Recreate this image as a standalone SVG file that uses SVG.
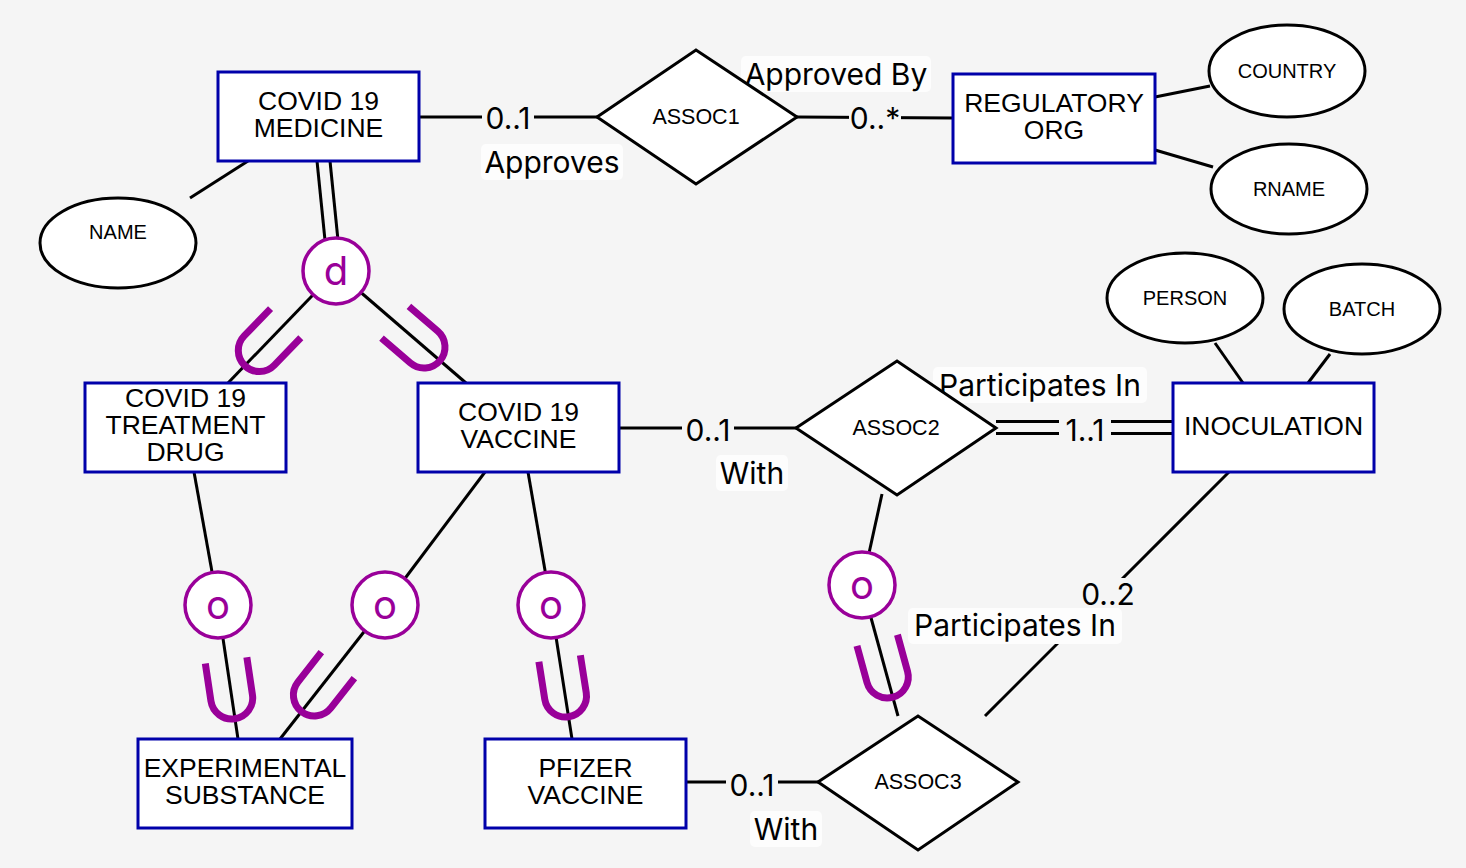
<svg xmlns="http://www.w3.org/2000/svg" width="1466" height="868" viewBox="0 0 1466 868">
<defs>
<style>
.ent{fill:#fff;stroke:#0000aa;stroke-width:3}
.rel{fill:#fff;stroke:#000;stroke-width:3}
.att{fill:#fff;stroke:#000;stroke-width:3}
.ln{stroke:#000;stroke-width:3;fill:none}
.et{font-family:"Liberation Sans",Arial,sans-serif;font-size:26.5px;text-anchor:middle;fill:#000}
.rt{font-family:"Liberation Sans",Arial,sans-serif;font-size:21.5px;text-anchor:middle;fill:#000}
.at{font-family:"Liberation Sans",Arial,sans-serif;font-size:20px;text-anchor:middle;fill:#000}
.lb{font-family:Inter,"Open Sans",sans-serif;font-size:30px;text-anchor:middle;fill:#000}
.lbg{fill:#f5f5f5}
.rbg{fill:#fdfdfd}
.sc{fill:#fff;stroke:#990099;stroke-width:3.5}
.st{font-family:Inter,"Open Sans",sans-serif;font-size:40px;text-anchor:middle;fill:#990099}
.u{fill:none;stroke:#990099;stroke-width:7}
</style>
<path id="U" d="M-21,-38 L-21,0 A21,21 0 0 0 21,0 L21,-38"/>
</defs>
<rect width="1466" height="868" fill="#f5f5f5"/>

<g id="connectors">
<line class="ln" x1="419" y1="117" x2="597" y2="117"/>
<line class="ln" x1="797" y1="117" x2="953" y2="118"/>
<line class="ln" x1="1155" y1="97" x2="1210" y2="86"/>
<line class="ln" x1="1155" y1="150" x2="1213" y2="167"/>
<line class="ln" x1="248" y1="161" x2="190" y2="198"/>
<line class="ln" x1="317" y1="161" x2="327" y2="260"/>
<line class="ln" x1="330" y1="161" x2="340" y2="260"/>
<line class="ln" x1="336" y1="271" x2="228" y2="383"/>
<line class="ln" x1="336" y1="271" x2="466" y2="383"/>
<line class="ln" x1="194" y1="472" x2="218" y2="605"/>
<line class="ln" x1="218" y1="605" x2="238" y2="739"/>
<line class="ln" x1="485" y1="472" x2="385" y2="605"/>
<line class="ln" x1="385" y1="605" x2="280" y2="739"/>
<line class="ln" x1="528" y1="472" x2="551" y2="605"/>
<line class="ln" x1="551" y1="605" x2="572" y2="739"/>
<line class="ln" x1="882" y1="494" x2="862" y2="585"/>
<line class="ln" x1="862" y1="585" x2="898" y2="716"/>
<line class="ln" x1="619" y1="428" x2="796" y2="428"/>
<line class="ln" x1="996" y1="421.5" x2="1173" y2="421.5"/>
<line class="ln" x1="996" y1="433.5" x2="1173" y2="433.5"/>
<line class="ln" x1="1229" y1="472" x2="985" y2="716"/>
<line class="ln" x1="686" y1="782" x2="818" y2="782"/>
<line class="ln" x1="1243" y1="383" x2="1215" y2="343"/>
<line class="ln" x1="1308" y1="383" x2="1330" y2="354"/>
</g>

<g id="subset-symbols">
<use href="#U" class="u" transform="translate(259.3,350.5) rotate(43.96)"/>
<use href="#U" class="u" transform="translate(424,347) rotate(-49.25)"/>
<use href="#U" class="u" transform="translate(231.7,698) rotate(-8.5)"/>
<use href="#U" class="u" transform="translate(314.4,695) rotate(38.1)"/>
<use href="#U" class="u" transform="translate(565.5,696) rotate(-8.9)"/>
<use href="#U" class="u" transform="translate(887.3,677) rotate(-15.4)"/>
</g>

<g id="labels">
<rect class="lbg" x="482" y="102" width="52" height="32"/>
<text class="lb" x="508" y="129">0..1</text>
<rect class="rbg" x="481" y="144" width="142" height="36" rx="5"/>
<text class="lb" x="552" y="173">Approves</text>
<rect class="rbg" x="741" y="56" width="190" height="36" rx="5"/>
<text class="lb" x="836" y="85">Approved By</text>
<rect class="lbg" x="849" y="102" width="52" height="32"/>
<text class="lb" x="875" y="129">0..*</text>
<rect class="lbg" x="682" y="412" width="52" height="32"/>
<text class="lb" x="708" y="441">0..1</text>
<rect class="rbg" x="716" y="455" width="72" height="36" rx="5"/>
<text class="lb" x="752" y="484">With</text>
<rect class="rbg" x="933" y="367" width="214" height="36" rx="5"/>
<text class="lb" x="1040" y="396">Participates In</text>
<rect class="lbg" x="1059" y="412" width="52" height="32"/>
<text class="lb" x="1085" y="441">1..1</text>
<rect class="lbg" x="1082" y="578" width="52" height="30"/>
<text class="lb" x="1108" y="605">0..2</text>
<rect class="rbg" x="908" y="608" width="214" height="36" rx="5"/>
<text class="lb" x="1015" y="636">Participates In</text>
<rect class="lbg" x="726" y="766" width="52" height="32"/>
<text class="lb" x="752" y="796">0..1</text>
<rect class="rbg" x="750" y="811" width="72" height="36" rx="5"/>
<text class="lb" x="786" y="840">With</text>
</g>

<g id="d-circle"><circle class="sc" cx="336" cy="271" r="33"/><text class="st" x="336" y="285">d</text></g>
<g id="o-circle-1"><circle class="sc" cx="218" cy="605" r="33"/><text class="st" x="218" y="619">o</text></g>
<g id="o-circle-2"><circle class="sc" cx="385" cy="605" r="33"/><text class="st" x="385" y="619">o</text></g>
<g id="o-circle-3"><circle class="sc" cx="551" cy="605" r="33"/><text class="st" x="551" y="619">o</text></g>
<g id="o-circle-4"><circle class="sc" cx="862" cy="585" r="33"/><text class="st" x="862" y="599">o</text></g>

<g id="covid19-medicine"><rect class="ent" x="218" y="72" width="201" height="89"/><text class="et" x="318.5" y="110">COVID 19</text><text class="et" x="318.5" y="137">MEDICINE</text></g>
<g id="regulatory-org"><rect class="ent" x="953" y="74" width="202" height="89"/><text class="et" x="1054" y="112">REGULATORY</text><text class="et" x="1054" y="139">ORG</text></g>
<g id="treatment-drug"><rect class="ent" x="85" y="383" width="201" height="89"/><text class="et" x="185.5" y="407">COVID 19</text><text class="et" x="185.5" y="434">TREATMENT</text><text class="et" x="185.5" y="461">DRUG</text></g>
<g id="covid19-vaccine"><rect class="ent" x="418" y="383" width="201" height="89"/><text class="et" x="518.5" y="421">COVID 19</text><text class="et" x="518.5" y="448">VACCINE</text></g>
<g id="inoculation"><rect class="ent" x="1173" y="383" width="201" height="89"/><text class="et" x="1273.5" y="435">INOCULATION</text></g>
<g id="experimental-substance"><rect class="ent" x="138" y="739" width="214" height="89"/><text class="et" x="245" y="777">EXPERIMENTAL</text><text class="et" x="245" y="804">SUBSTANCE</text></g>
<g id="pfizer-vaccine"><rect class="ent" x="485" y="739" width="201" height="89"/><text class="et" x="585.5" y="777">PFIZER</text><text class="et" x="585.5" y="804">VACCINE</text></g>

<g id="assoc1"><polygon class="rel" points="597,117 696,50 797,117 696,184"/><text class="rt" x="696" y="124">ASSOC1</text></g>
<g id="assoc2"><polygon class="rel" points="796,428 897,361 996,428 897,495"/><text class="rt" x="896" y="435">ASSOC2</text></g>
<g id="assoc3"><polygon class="rel" points="818,782 918,716 1018,782 918,850"/><text class="rt" x="918" y="789">ASSOC3</text></g>

<g id="name"><ellipse class="att" cx="118" cy="243" rx="78" ry="45"/><text class="at" x="118" y="239">NAME</text></g>
<g id="country"><ellipse class="att" cx="1287" cy="71" rx="78" ry="46"/><text class="at" x="1287" y="78">COUNTRY</text></g>
<g id="rname"><ellipse class="att" cx="1289" cy="189" rx="78" ry="45"/><text class="at" x="1289" y="196">RNAME</text></g>
<g id="person"><ellipse class="att" cx="1185" cy="298" rx="78" ry="45"/><text class="at" x="1185" y="305">PERSON</text></g>
<g id="batch"><ellipse class="att" cx="1362" cy="309" rx="78" ry="45"/><text class="at" x="1362" y="316">BATCH</text></g>
</svg>
